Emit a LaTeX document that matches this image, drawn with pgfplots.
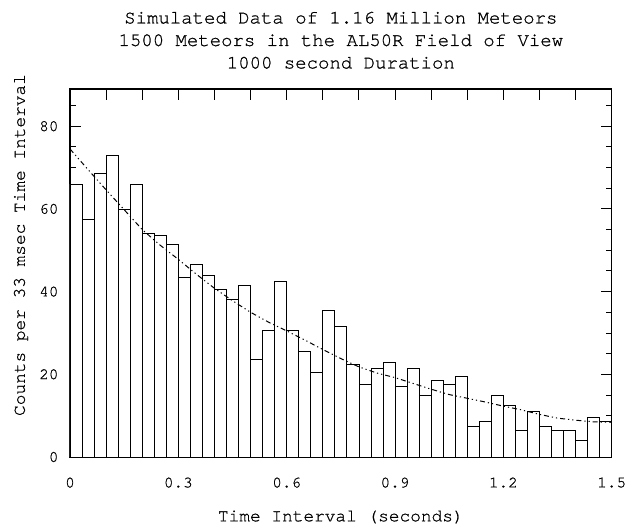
\documentclass[border=0pt]{standalone}
\usepackage{pgfplots}
\pgfplotsset{compat=1.18}
\usepackage{fontspec}
\setmainfont{texgyrecursor-regular.otf}[FakeBold=0.8]
\begin{document}
\begin{tikzpicture}
\begin{axis}[
  name=ax,
  scale only axis,
  width=541.7pt, height=368pt,
  xmin=0, xmax=1.5, ymin=0, ymax=89,
  axis line style={line width=1.1pt},
  tick style={black, line width=0.9pt},
  tick align=inside,
  xtick={0,0.1,...,1.55},
  xticklabels={0,,,0.3,,,0.6,,,0.9,,,1.2,,,1.5},
  ytick={0,20,40,60,80},
  minor ytick={5,10,15,25,30,35,45,50,55,65,70,75,85},
  major tick length=11pt,
  minor tick length=6pt,
  /pgf/number format/assume math mode=true,
  ticklabel style={font=\fontsize{16}{18}\selectfont},
  xticklabel style={yshift=-17pt},
  yticklabel style={xshift=-8pt},
  xlabel={Time Interval (seconds)},
  ylabel={Counts per 33 msec Time Interval},
  label style={font=\fontsize{17.8}{20}\selectfont},
  xlabel style={at={(rel axis cs:0.5,0)}, anchor=center, yshift=-60pt},
  ylabel style={at={(rel axis cs:0,0.5)}, anchor=center, xshift=28pt, yshift=49pt},
  clip=false,
]
\addplot[ybar interval, draw=black, fill=white, line width=0.8pt] coordinates {
(0.0000,66) (0.0333,57.5) (0.0667,68.5) (0.1000,73) (0.1333,60)
(0.1667,66) (0.2000,54) (0.2333,53.5) (0.2667,51.5) (0.3000,43.5)
(0.3333,46.5) (0.3667,44) (0.4000,40.5) (0.4333,38) (0.4667,41.5)
(0.5000,23.5) (0.5333,30.5) (0.5667,42.5) (0.6000,30.5) (0.6333,25.5)
(0.6667,20.5) (0.7000,35.5) (0.7333,31.5) (0.7667,22.5) (0.8000,17.5)
(0.8333,21.5) (0.8667,23) (0.9000,17) (0.9333,21.5) (0.9667,15)
(1.0000,18.5) (1.0333,17.5) (1.0667,19.5) (1.1000,7.5) (1.1333,8.5)
(1.1667,15) (1.2000,12.5) (1.2333,6.5) (1.2667,11) (1.3000,7.5)
(1.3333,6.5) (1.3667,6.5) (1.4000,4) (1.4333,9.5) (1.4667,8.5)
(1.5000,8.5)
};
\addplot[black, line width=1pt, dash pattern=on 5pt off 3pt on 1.2pt off 3pt on 1.2pt off 3pt] coordinates {
(0,74.5) (0.05,69.5) (0.1,64.6) (0.15,59.8) (0.2,55.0) (0.25,51.2)
(0.3,47.8) (0.35,44.2) (0.4,40.8) (0.45,37.8) (0.5,35.0) (0.55,32.6)
(0.6,30.5) (0.65,28.3) (0.7,26.0) (0.75,23.8) (0.8,21.8) (0.85,20.3)
(0.9,19.2) (0.95,17.8) (1.0,16.4) (1.05,15.1) (1.1,14.2) (1.15,13.3)
(1.2,12.3) (1.25,11.4) (1.3,10.3) (1.35,9.4) (1.4,8.9) (1.45,8.5)
(1.5,8.4)
};
\coordinate (sw) at (rel axis cs:0,0);
\coordinate (ne) at (rel axis cs:1,1);
\node[anchor=south, align=center, font=\fontsize{19}{22.5}\selectfont, inner sep=0pt]
  at ([yshift=20pt]rel axis cs:0.5,1)
  {Simulated Data of 1.16 Million Meteors\\1500 Meteors in the AL50R Field of View\\1000 second Duration};
\end{axis}
\path[use as bounding box] ([xshift=-70pt,yshift=-68pt]sw) rectangle ([xshift=19.3pt,yshift=89pt]ne);
\end{tikzpicture}
\end{document}
